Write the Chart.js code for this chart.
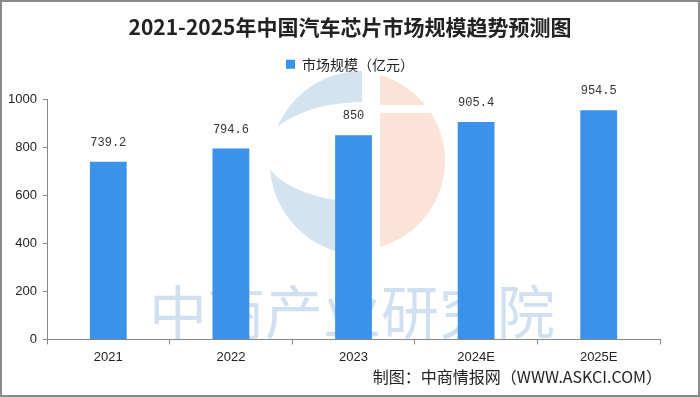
<!DOCTYPE html>
<html>
<head>
<meta charset="utf-8">
<script src="https://cdn.jsdelivr.net/npm/chart.js@4/dist/chart.umd.min.js"></script>
<style>
  html, body { margin: 0; padding: 0; background: #fff; }
  #wrap { position: relative; width: 700px; height: 397px; box-sizing: border-box; border: 2px solid #8a8a8a; }
  #grafico { position: absolute; left: -2px; top: -2px; }
  #fonte { position: absolute; right: 36px; top: 362px; font: 16px "Noto Sans CJK SC", sans-serif; color: #222; white-space: nowrap; }
</style>
</head>
<body>
<div id="wrap">
  <canvas id="grafico" width="700" height="397"></canvas>
  <div id="fonte">制图：中商情报网（WWW.ASKCI.COM）</div>
</div>
<script>
const anos = ['2021', '2022', '2023', '2024E', '2025E']
const mercado = [739.2, 794.6, 850, 905.4, 954.5]
const rotulos = ['739.2', '794.6', '850', '905.4', '954.5']
const ticks_y = [0, 200, 400, 600, 800, 1000]

const ctx = document.getElementById('grafico').getContext('2d')

// marca d'agua do fundo
const marca = {
    id: 'marca',
    beforeDraw(chart) {
        const c = chart.ctx
        const cx = 362, cy = 163, r = 92
        c.save()
        // parte azul (C)
        c.beginPath()
        c.arc(cx, cy, r, Math.PI / 2, Math.PI * 1.5)
        c.closePath()
        c.fillStyle = '#d3e3f0'
        c.fill()
        c.beginPath()
        c.ellipse(364, 152, 100, 50, 0, Math.PI / 2, Math.PI * 1.5)
        c.closePath()
        c.fillStyle = '#ffffff'
        c.fill()
        // parte laranja
        c.beginPath()
        c.rect(380, cy - r - 5, r + 10, 2 * r + 10)
        c.clip()
        c.beginPath()
        c.arc(cx - 6, cy - 2, r - 3, 0, Math.PI * 2)
        c.fillStyle = '#fbe3d8'
        c.fill()
        c.fillStyle = '#ffffff'
        c.fillRect(380, 105, 100, 8)
        c.restore()
        c.save()
        c.font = '58px "Noto Sans CJK SC"'
        c.fillStyle = 'rgba(200, 219, 238, 0.85)'
        c.textAlign = 'center'
        c.textBaseline = 'middle'
        c.fillText('中商产业研究院', 352, 312)
        c.restore()
    }
}

const rotulo_barras = {
    id: 'rotulo_barras',
    afterDatasetsDraw(chart) {
        const c = chart.ctx
        const meta = chart.getDatasetMeta(0)
        c.save()
        c.font = '12px "Liberation Mono", monospace'
        c.fillStyle = '#333'
        c.textAlign = 'center'
        c.textBaseline = 'middle'
        meta.data.forEach((bar, i) => {
            c.fillText(rotulos[i], bar.x, bar.y - 19)
        })
        c.restore()
    }
}

// espaco extra abaixo da legenda + titulo/legenda centrados na imagem
const espaco_legenda = {
    id: 'espaco_legenda',
    beforeInit(chart) {
        const fit = chart.legend.fit
        chart.legend.fit = function () {
            fit.call(this)
            this.height += 18
        }
    },
    afterLayout(chart) {
        [chart.titleBlock, chart.legend].forEach(box => {
            const d = chart.width / 2 - (box.left + box.right) / 2
            box.left += d
            box.right += d
        })
    }
}

let grafico = new Chart(ctx, {
    type: 'bar',
    data: {
        labels: anos,
        datasets: [{
            label: '市场规模（亿元）',
            data: mercado,
            backgroundColor: '#3a92eb',
            barPercentage: 0.6,
            categoryPercentage: 0.5
        }]
    },
    options: {
        responsive: false,
        animation: false,
        layout: {
            padding: { top: 0, right: 40, bottom: 27, left: 0 }
        },
        plugins: {
            title: {
                display: true,
                text: '2021-2025年中国汽车芯片市场规模趋势预测图',
                color: '#222',
                font: { size: 21, weight: 'bold', family: '"Noto Sans CJK SC"' },
                padding: { top: 14, bottom: 12 }
            },
            legend: {
                display: true,
                labels: {
                    boxWidth: 9,
                    boxHeight: 9,
                    color: '#222',
                    font: { size: 14, family: '"Noto Sans CJK SC"' },
                    padding: 6
                }
            },
            tooltip: { enabled: false }
        },
        scales: {
            x: {
                grid: { drawOnChartArea: false, tickLength: 5, color: '#888' },
                border: { color: '#888' },
                ticks: { color: '#222', font: { size: 13, family: '"Liberation Sans"' }, padding: 5 }
            },
            y: {
                min: 0,
                max: 1000,
                afterFit(scale) { scale.width = 47 },
                afterBuildTicks(scale) { scale.ticks = ticks_y.map(v => ({ value: v })) },
                grid: { drawOnChartArea: false, tickLength: 4, color: '#888' },
                border: { color: '#888' },
                ticks: {
                    color: '#222',
                    font: { size: 13, family: '"Liberation Sans"' },
                    padding: 6,
                    callback: v => String(v)
                }
            }
        }
    },
    plugins: [marca, rotulo_barras, espaco_legenda]
});
</script>
</body>
</html>
